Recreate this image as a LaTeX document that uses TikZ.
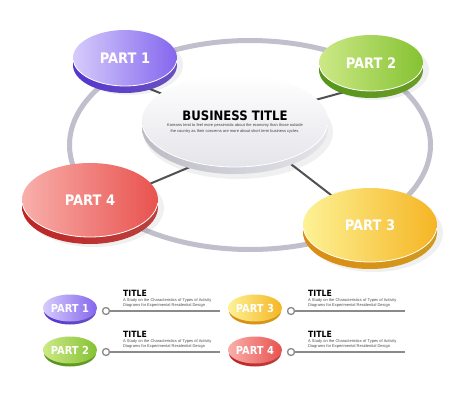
\documentclass[tikz,border=0pt]{standalone}
\usepackage{fontspec}
\setmainfont{Liberation Sans}
\newfontfamily\condfont{DejaVu Sans Condensed}
\usetikzlibrary{shapes.geometric,calc}
\definecolor{ringc}{HTML}{C0C0CC}
\definecolor{spokec}{HTML}{505055}
\definecolor{puL}{HTML}{D6CCFB}
\definecolor{puR}{HTML}{8466EE}
\definecolor{puS}{HTML}{5535CF}
\definecolor{grL}{HTML}{CDE987}
\definecolor{grR}{HTML}{85C232}
\definecolor{grS}{HTML}{56951A}
\definecolor{reL}{HTML}{F9AFAB}
\definecolor{reR}{HTML}{E8524E}
\definecolor{reS}{HTML}{BE2424}
\definecolor{yeL}{HTML}{FDF295}
\definecolor{yeR}{HTML}{F5B524}
\definecolor{yeS}{HTML}{DC8C12}
\definecolor{ceB}{HTML}{E4E4EA}
\definecolor{ceS}{HTML}{BCBCC6}
\definecolor{legc}{HTML}{8A8A8A}
\begin{document}
\begin{tikzpicture}[x=1pt,y=-1pt,
  topface/.style={ellipse, inner sep=0pt, text=white, font=\condfont\bfseries\fontsize{14.5}{15}\selectfont},
  smallface/.style={ellipse, inner sep=0pt, text=white, font=\condfont\bfseries\fontsize{11}{12}\selectfont},
  rim/.style={white, line width=0.8pt},
  softshadow/.style={black, opacity=0.06},
  spoke/.style={spokec, line width=2pt},
  legline/.style={legc, line width=1.1pt},
  legdot/.style={circle, draw=legc, line width=1.3pt, fill=white, minimum size=7pt, inner sep=0pt},
  legtitle/.style={anchor=south west, inner sep=0pt, font=\condfont\bfseries\fontsize{8.6}{9}\selectfont},
  legtext/.style={anchor=north west, inner sep=0pt, align=left, text=black!70, font=\fontsize{4}{4.6}\selectfont}
]
\useasboundingbox (0,0) rectangle (464,400);
\fill[white] (0,0) rectangle (464,400);

% ring
\draw[ringc, line width=5pt] (250,145) ellipse (180.5 and 104.5);

% spoke coordinates
\coordinate (h1) at (235,123);
\coordinate (a1) at (125,79);
\coordinate (h2) at (235,122);
\coordinate (a2) at (370,85);
\coordinate (h3) at (235,121);
\coordinate (a3) at (370,225);
\coordinate (h4) at (235,148);
\coordinate (a4) at (90,209);
\draw[spoke] (h1) -- (a1);
\draw[spoke] (h2) -- (a2);
\draw[spoke] (h3) -- (a3);
\draw[spoke] (h4) -- (a4);

% centre disc
\fill[softshadow] (238,132) ellipse (95 and 47);
\shade[left color=ceS, right color=ceB] (235,128) ellipse (93 and 46);
\node[ellipse, inner sep=0pt, minimum width=186pt, minimum height=92pt, top color=white, bottom color=ceB] (c) at (235,121) {};
\draw[rim] (c.center) ++(5:93 and 46) arc[start angle=5, end angle=175, x radius=93, y radius=46];
\node[font=\condfont\bfseries\fontsize{13}{14}\selectfont, inner sep=0pt] (bt) at (235,116) {BUSINESS TITLE};
\node[font=\fontsize{4}{5.6}\selectfont, align=center, text=black!75, inner sep=0pt] (bd) at (235,128.5) {Koreans tend to feel more pessimistic about the economy than those outside\\the country as their concerns are more about short term business cycles.};

% part 1
\fill[softshadow] (129,65) ellipse (54 and 30);
\shade[left color=puS, right color=puR!80!black] (125,65) ellipse (52 and 28);
\node[topface, minimum width=104pt, minimum height=56pt, left color=puL, right color=puR] (p1) at (125,58) {PART 1};
\draw[rim] (p1.center) ++(5:52 and 28) arc[start angle=5, end angle=175, x radius=52, y radius=28];

% part 2
\fill[softshadow] (375,70) ellipse (54 and 30);
\shade[left color=grS, right color=grR!80!black] (371,70) ellipse (52 and 28);
\node[topface, minimum width=104pt, minimum height=56pt, left color=grL, right color=grR] (p2) at (371,63) {PART 2};
\draw[rim] (p2.center) ++(5:52 and 28) arc[start angle=5, end angle=175, x radius=52, y radius=28];

% part 3
\fill[softshadow] (374,233) ellipse (69 and 39);
\shade[left color=yeS, right color=yeR!85!black] (370,232) ellipse (67 and 37);
\node[topface, minimum width=134pt, minimum height=74pt, left color=yeL, right color=yeR] (p3) at (370,225) {PART 3};
\draw[rim] (p3.center) ++(5:67 and 37) arc[start angle=5, end angle=175, x radius=67, y radius=37];

% part 4
\fill[softshadow] (94,208) ellipse (70 and 39);
\shade[left color=reS, right color=reR!80!black] (90,207) ellipse (68 and 37);
\node[topface, minimum width=136pt, minimum height=74pt, left color=reL, right color=reR] (p4) at (90,200) {PART 4};
\draw[rim] (p4.center) ++(5:68 and 37) arc[start angle=5, end angle=175, x radius=68, y radius=37];

% legend
\shade[left color=puS, right color=puR!80!black] (70,311) ellipse (26 and 13.5);
\node[smallface, minimum width=52pt, minimum height=27pt, left color=puL, right color=puR] (l1) at (70,308) {PART 1};
\shade[left color=grS, right color=grR!80!black] (70,353) ellipse (26 and 13.5);
\node[smallface, minimum width=52pt, minimum height=27pt, left color=grL, right color=grR] (l2) at (70,350) {PART 2};
\shade[left color=yeS, right color=yeR!85!black] (255,311) ellipse (26 and 13.5);
\node[smallface, minimum width=52pt, minimum height=27pt, left color=yeL, right color=yeR] (l3) at (255,308) {PART 3};
\shade[left color=reS, right color=reR!80!black] (255,353) ellipse (26 and 13.5);
\node[smallface, minimum width=52pt, minimum height=27pt, left color=reL, right color=reR] (l4) at (255,350) {PART 4};

\coordinate (e1) at (220,311);
\coordinate (e2) at (220,352);
\coordinate (e3) at (405,311);
\coordinate (e4) at (405,352);
\node[legdot] (d1) at (106,311) {};
\node[legdot] (d2) at (106,352) {};
\node[legdot] (d3) at (291,311) {};
\node[legdot] (d4) at (291,352) {};
\draw[legline] (d1) -- (e1);
\draw[legline] (d2) -- (e2);
\draw[legline] (d3) -- (e3);
\draw[legline] (d4) -- (e4);

\node[legtitle] (t1) at (123,297) {TITLE};
\node[legtext] (x1) at (123,298.5) {A Study on the Characteristics of Types of Activity\\Diagrams for Experimental Residential Design};
\node[legtitle] (t2) at (123,338) {TITLE};
\node[legtext] (x2) at (123,339.5) {A Study on the Characteristics of Types of Activity\\Diagrams for Experimental Residential Design};
\node[legtitle] (t3) at (308,297) {TITLE};
\node[legtext] (x3) at (308,298.5) {A Study on the Characteristics of Types of Activity\\Diagrams for Experimental Residential Design};
\node[legtitle] (t4) at (308,338) {TITLE};
\node[legtext] (x4) at (308,339.5) {A Study on the Characteristics of Types of Activity\\Diagrams for Experimental Residential Design};
\end{tikzpicture}
\end{document}
